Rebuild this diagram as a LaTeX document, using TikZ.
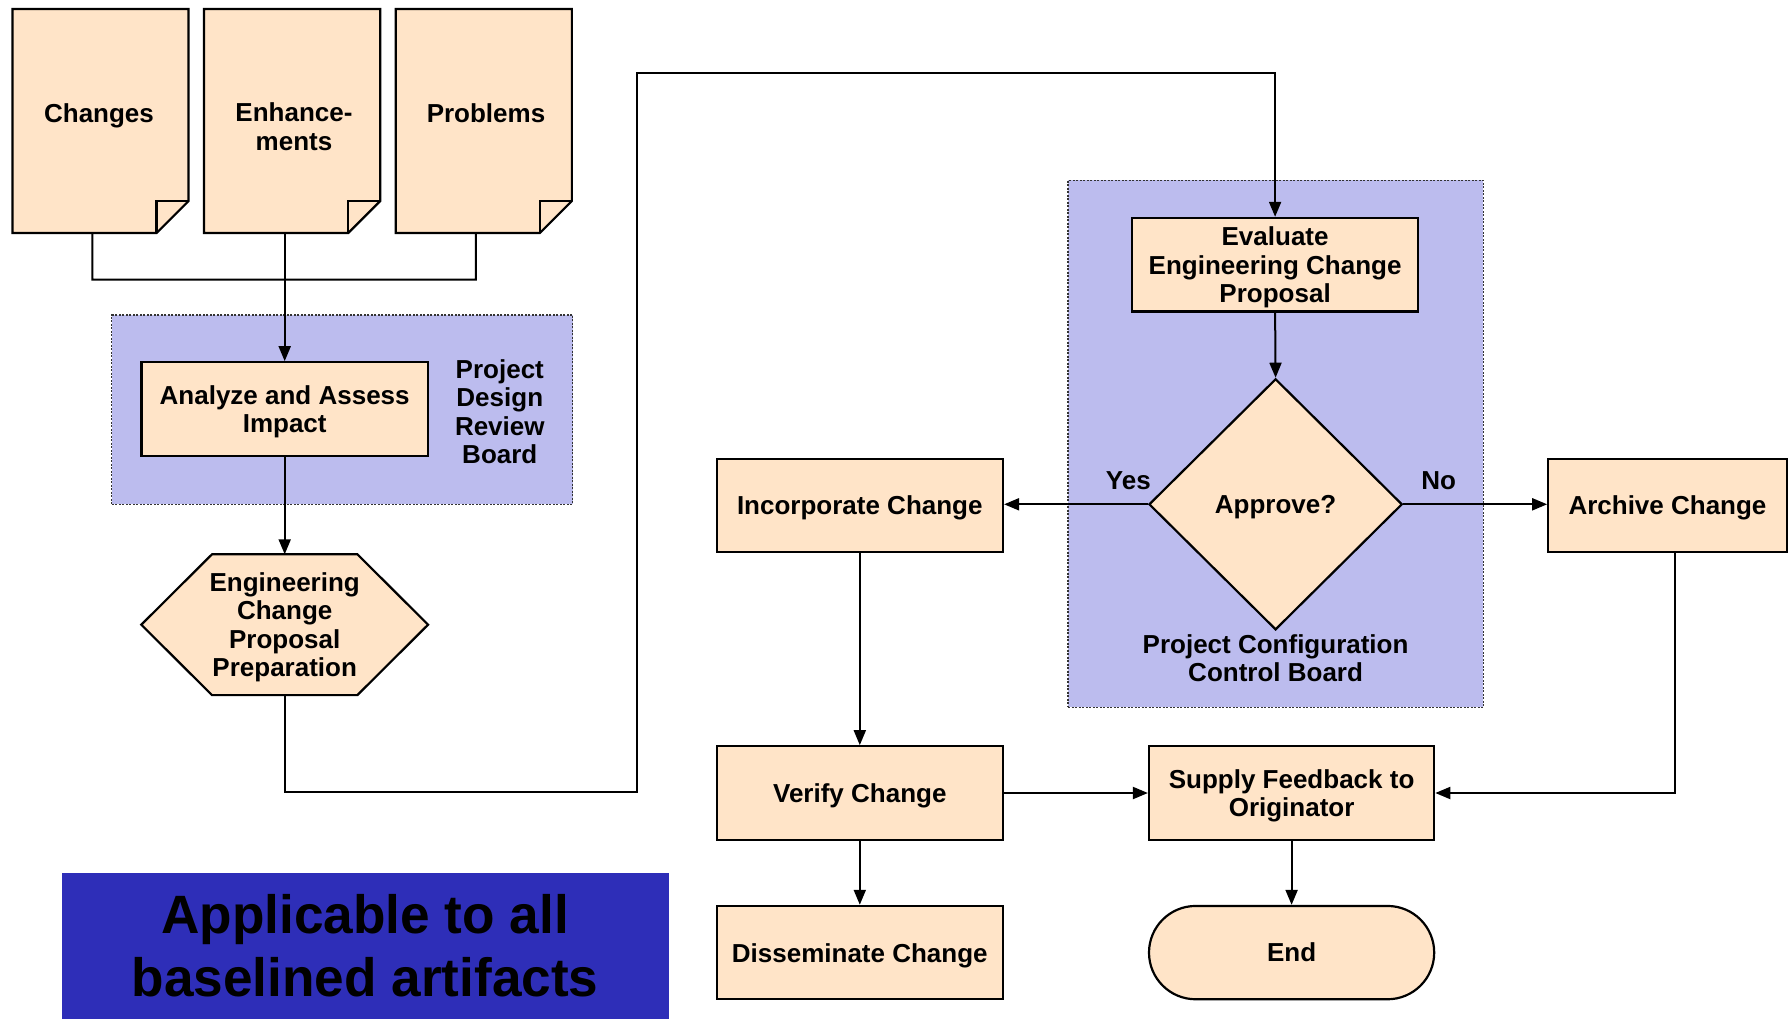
\documentclass[tikz,border=0pt]{standalone}
\usepackage{fontspec}
\setmainfont{Liberation Sans}
\usetikzlibrary{arrows.meta,shapes.geometric,shapes.misc,calc}
\definecolor{peach}{RGB}{255,228,200}
\definecolor{lav}{RGB}{188,188,238}
\definecolor{royal}{RGB}{46,46,184}
\pgfdeclarelayer{back}
\pgfdeclarelayer{shp}
\pgfsetlayers{back,shp,main}
\tikzset{
  x=1pt, y=-1pt,
  every node/.style={font=\fontsize{26}{28.5}\selectfont\bfseries, align=center, inner sep=0pt},
  box/.style={draw, line width=2.2pt, fill=peach, minimum width=286.4pt, minimum height=93.5pt, text depth=0pt},
  region/.style={draw=black!80, dash pattern=on 2pt off 1.5pt, line width=1.3pt, fill=lav},
  conn/.style={line width=2pt},
  arr/.style={line width=2pt, -{Triangle[length=15pt,width=12pt]}},
  shapeline/.style={draw, line width=2.2pt, fill=peach, line join=miter},
}
\begin{document}
\begin{tikzpicture}
\useasboundingbox (0,0) rectangle (1789,1018);
% regions
\begin{pgfonlayer}{back}
\node[region, minimum width=461pt, minimum height=189.3pt] (pdrb) at (342.3,409.65) {};
\node[region, minimum width=415.3pt, minimum height=527.1pt] (pccb) at (1275.65,443.85) {};
\end{pgfonlayer}
% documents
\node[minimum width=175.7pt, minimum height=223.7pt] (chg) at (100.45,121) {};
\node[minimum width=175.7pt, minimum height=223.7pt] (enh) at (292.1,121) {};
\node[minimum width=175.7pt, minimum height=223.7pt] (prb) at (483.8,121) {};
\begin{pgfonlayer}{shp}
\foreach \d in {chg,enh,prb}{
  \draw[shapeline] (\d.north west) -- (\d.north east) -- ([yshift=32pt]\d.south east) -- ([xshift=-32pt]\d.south east) -- (\d.south west) -- cycle;
  \draw[line width=2.2pt, line join=miter] ([yshift=32pt]\d.south east) -- ([xshift=-32pt,yshift=32pt]\d.south east) -- ([xshift=-32pt]\d.south east);
}
\end{pgfonlayer}
\node (chgt) at (99,115.5) {Changes};
\node (enht) at (294,126.7) {Enhance-\\ments};
\node (prbt) at (486,113.2) {Problems};
% collector
\coordinate (cl) at (92.4,279.5);
\coordinate (cr) at (475.8,279.5);
\draw[conn] ($(chg.south)+(-8,0)$) -- (cl) -- (cr) -- ($(prb.south)+(-8,0)$);
% analyze
\node[box] (ana) at (284.7,409) {Analyze and Assess\\Impact};
\draw[arr] (ana.north |- enh.south) -- (ana.north);
\node (pdrbt) at (499.8,411.5) {\fontsize{26}{29}\selectfont Project\\Design\\Review\\Board};
% hexagon
\node[minimum width=286.4pt, minimum height=140.4pt, text depth=0pt] (ecp) at (284.7,624.7) {Engineering\\Change\\Proposal\\Preparation};
\begin{pgfonlayer}{shp}
\draw[shapeline] (ecp.west) -- ([xshift=70.7pt]ecp.north west) -- ([xshift=-70.7pt]ecp.north east) -- (ecp.east) -- ([xshift=-70.7pt]ecp.south east) -- ([xshift=70.7pt]ecp.south west) -- cycle;
\end{pgfonlayer}
\draw[arr] (ana.south) -- (ecp.north);
% evaluate
\node[box, minimum height=93.6pt] (eval) at (1275.1,264.7) {Evaluate\\Engineering Change\\Proposal};
\coordinate (c1) at (636.7,791.9);
\coordinate (c2) at (636.7,73);
\draw[arr] (ecp.south) |- (c1) -- (c2) -| (eval.north);
% diamond
\node[diamond, draw, line width=2.2pt, fill=peach, minimum width=253.3pt, minimum height=251pt, line join=miter, text depth=0pt] (dia) at (1275.6,504.3) {Approve?};
\draw[arr] (eval.south) -- (dia.north);
\node (yes) at (1128.4,480.4) {Yes};
\node (no) at (1438.7,480.4) {No};
\node (pccbt) at (1275.6,658) {Project Configuration\\Control Board};
% right part
\node[box] (inc) at (859.8,505.5) {Incorporate Change};
\node[box, minimum width=238.5pt] (arc) at (1667.5,505.5) {Archive Change};
\draw[arr] (dia.west) -- (dia.west -| inc.east);
\draw[arr] (dia.east) -- (dia.east -| arc.west);
\node[box] (ver) at (859.8,793) {Verify Change};
\node[box, minimum width=285.2pt] (sup) at (1291.6,793) {Supply Feedback to\\Originator};
\node[box] (dis) at (859.8,952.6) {Disseminate Change};
\node[rounded rectangle, draw, line width=2.2pt, fill=peach, minimum width=285.2pt, minimum height=93.3pt] (endn) at (1291.6,952.6) {End};
\draw[arr] (inc.south) -- (ver.north);
\draw[arr] (ver.east) -- (sup.west);
\draw[arr] ($(arc.south)+(7.5,0)$) |- (sup.east);
\draw[arr] (ver.south) -- (dis.north);
\draw[arr] (sup.south) -- (endn.north);
% applicable box
\node[fill=royal, minimum width=607pt, minimum height=146pt, font=\fontsize{54}{62.8}\selectfont\bfseries] (app) at (365.1,946) {\scalebox{0.985}[1]{Applicable to all}\\\scalebox{0.985}[1]{baselined artifacts}};
\end{tikzpicture}
\end{document}
